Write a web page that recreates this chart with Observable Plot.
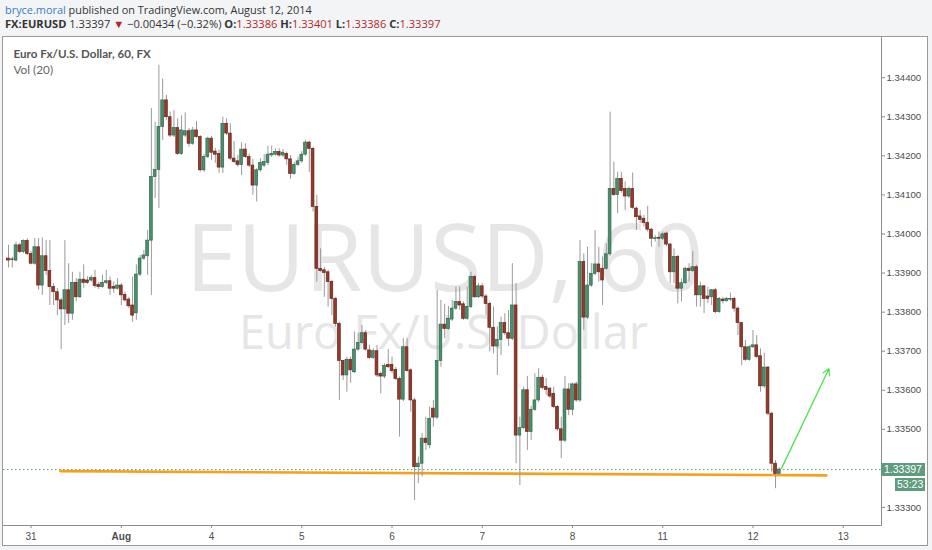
<!DOCTYPE html>
<html><head><meta charset="utf-8">
<script src="https://cdn.jsdelivr.net/npm/d3@7"></script>
<script src="https://cdn.jsdelivr.net/npm/@observablehq/plot@0.6"></script>
<style>
html,body{margin:0;padding:0;background:#f3f4f6;}
body{width:932px;height:550px;position:relative;overflow:hidden;font-family:Lato,"Open Sans",sans-serif;}
.hd{position:absolute;left:5px;color:#333;white-space:nowrap;font-family:"Open Sans",sans-serif;font-size:12px;}
#h1{top:2px;}
#h2{top:16px;}
.b{font-weight:bold;}
.r{color:#b3272b;}
#chart{position:absolute;left:2px;top:36px;width:924px;height:508px;border:1px solid #9a9a9a;background:#fff;}
.pbox{position:absolute;background:#5d9c7e;color:#fff;font:10.5px "Liberation Sans",Arial,sans-serif;line-height:13px;white-space:nowrap;}
</style></head>
<body>
<div class="hd" id="h1"><span style="color:#2f80c4">bryce.moral</span> published on TradingView.com, August 12, 2014</div>
<div class="hd" id="h2"><span class="b">FX:EURUSD</span> 1.33397 <span class="r">▼</span> −0.00434 (−0.32%) <span class="b">O:</span><span class="r">1.33386</span> <span class="b">H:</span><span class="r">1.33401</span> <span class="b">L:</span><span class="r">1.33386</span> <span class="b">C:</span><span class="r">1.33397</span></div>
<div id="chart"></div>
<script>
const open = [
1.33937,1.33935,1.33932,1.33971,1.33954,1.33982,1.33949,1.33924,1.33966,1.33868,1.33943,1.33905,
1.33864,1.33851,1.33830,1.33807,1.33856,1.33796,1.33875,1.33838,1.33883,1.33881,1.33881,1.33887,
1.33870,1.33864,1.33875,1.33879,1.33864,1.33860,1.33868,1.33844,1.33832,1.33817,1.33797,1.33896,
1.33937,1.33943,1.33983,1.34146,1.34164,1.34274,1.34342,1.34299,1.34252,1.34271,1.34205,1.34252,
1.34263,1.34231,1.34265,1.34248,1.34163,1.34197,1.34244,1.34211,1.34205,1.34170,1.34282,1.34257,
1.34193,1.34186,1.34177,1.34216,1.34197,1.34175,1.34124,1.34163,1.34175,1.34182,1.34201,1.34203,
1.34210,1.34201,1.34205,1.34191,1.34154,1.34177,1.34186,1.34203,1.34234,1.34218,1.34069,1.33911,
1.33907,1.33902,1.33877,1.33834,1.33770,1.33675,1.33638,1.33678,1.33646,1.33704,1.33721,1.33746,
1.33702,1.33683,1.33700,1.33642,1.33635,1.33665,1.33665,1.33652,1.33629,1.33576,1.33710,1.33651,
1.33574,1.33403,1.33412,1.33476,1.33459,1.33553,1.33530,1.33675,1.33768,1.33757,1.33781,1.33809,
1.33826,1.33820,1.33783,1.33813,1.33890,1.33838,1.33866,1.33840,1.33821,1.33760,1.33712,1.33729,
1.33772,1.33746,1.33732,1.33817,1.33484,1.33503,1.33600,1.33493,1.33550,1.33574,1.33632,1.33608,
1.33604,1.33591,1.33557,1.33500,1.33471,1.33602,1.33550,1.33615,1.33574,1.33928,1.33786,1.33868,
1.33898,1.33922,1.33911,1.33911,1.33948,1.34115,1.34100,1.34141,1.34115,1.34096,1.34115,1.34065,
1.34045,1.34039,1.34028,1.34011,1.33987,1.33990,1.33988,1.34001,1.33973,1.33902,1.33941,1.33860,
1.33874,1.33911,1.33905,1.33915,1.33843,1.33866,1.33840,1.33838,1.33856,1.33800,1.33832,1.33828,
1.33832,1.33834,1.33809,1.33772,1.33710,1.33678,1.33710,1.33715,1.33687,1.33610,1.33658,1.33540,
1.33412,1.33386];
const high = [
1.33971,1.33941,1.33979,1.33976,1.33985,1.33988,1.33955,1.33988,1.33988,1.33990,1.33983,1.33983,
1.33873,1.33861,1.33835,1.33983,1.33924,1.33902,1.33886,1.33902,1.33921,1.33890,1.33894,1.33907,
1.33876,1.33894,1.33907,1.33890,1.33877,1.33886,1.33873,1.33851,1.33838,1.33890,1.33921,1.33945,
1.33958,1.34009,1.34321,1.34286,1.34432,1.34397,1.34355,1.34312,1.34316,1.34295,1.34303,1.34310,
1.34270,1.34273,1.34288,1.34252,1.34204,1.34248,1.34250,1.34219,1.34214,1.34299,1.34295,1.34282,
1.34237,1.34201,1.34234,1.34231,1.34205,1.34191,1.34167,1.34193,1.34203,1.34225,1.34225,1.34218,
1.34218,1.34216,1.34210,1.34201,1.34183,1.34197,1.34211,1.34240,1.34237,1.34222,1.34099,1.33962,
1.33915,1.33907,1.33881,1.33838,1.33774,1.33676,1.33685,1.33685,1.33749,1.33746,1.33766,1.33753,
1.33715,1.33706,1.33715,1.33646,1.33668,1.33704,1.33685,1.33658,1.33634,1.33732,1.33732,1.33655,
1.33579,1.33429,1.33489,1.33531,1.33557,1.33574,1.33856,1.33830,1.33820,1.33815,1.33830,1.33864,
1.33864,1.33826,1.33864,1.33902,1.33894,1.33873,1.33873,1.33845,1.33826,1.33813,1.33762,1.33787,
1.33796,1.33804,1.33924,1.33873,1.33531,1.33608,1.33635,1.33559,1.33642,1.33655,1.33638,1.33630,
1.33608,1.33608,1.33561,1.33531,1.33635,1.33617,1.33618,1.33621,1.33983,1.33949,1.33966,1.33924,
1.34009,1.33966,1.33941,1.33975,1.34312,1.34184,1.34158,1.34158,1.34133,1.34120,1.34156,1.34069,
1.34060,1.34048,1.34071,1.34014,1.33996,1.34005,1.34005,1.34005,1.33976,1.33962,1.33945,1.33885,
1.33915,1.33924,1.33955,1.33920,1.33877,1.33868,1.33864,1.33858,1.33861,1.33838,1.33838,1.33838,
1.33849,1.33838,1.33813,1.33774,1.33727,1.33715,1.33753,1.33740,1.33706,1.33695,1.33661,1.33543,
1.33420,1.33401];
const low = [
1.33913,1.33913,1.33929,1.33950,1.33950,1.33945,1.33921,1.33920,1.33856,1.33843,1.33894,1.33817,
1.33817,1.33791,1.33704,1.33766,1.33771,1.33779,1.33827,1.33835,1.33861,1.33871,1.33876,1.33861,
1.33858,1.33861,1.33871,1.33843,1.33848,1.33856,1.33817,1.33826,1.33809,1.33774,1.33779,1.33891,
1.33932,1.33894,1.33843,1.34091,1.34065,1.34239,1.34291,1.34247,1.34247,1.34201,1.34201,1.34247,
1.34222,1.34227,1.34245,1.34158,1.34158,1.34193,1.34188,1.34181,1.34155,1.34155,1.34252,1.34188,
1.34181,1.34171,1.34150,1.34193,1.34170,1.34099,1.34082,1.34158,1.34170,1.34175,1.34196,1.34199,
1.34196,1.34196,1.34175,1.34140,1.34150,1.34173,1.34181,1.34199,1.34158,1.34056,1.33877,1.33902,
1.33838,1.33813,1.33791,1.33762,1.33574,1.33625,1.33595,1.33618,1.33643,1.33700,1.33718,1.33700,
1.33679,1.33679,1.33633,1.33591,1.33630,1.33656,1.33643,1.33625,1.33480,1.33571,1.33646,1.33544,
1.33318,1.33361,1.33378,1.33446,1.33450,1.33505,1.33525,1.33659,1.33732,1.33753,1.33776,1.33804,
1.33804,1.33779,1.33779,1.33809,1.33835,1.33835,1.33835,1.33791,1.33698,1.33693,1.33638,1.33689,
1.33740,1.33712,1.33727,1.33412,1.33356,1.33500,1.33446,1.33471,1.33546,1.33569,1.33602,1.33587,
1.33579,1.33553,1.33495,1.33425,1.33466,1.33535,1.33535,1.33569,1.33569,1.33753,1.33781,1.33863,
1.33894,1.33877,1.33817,1.33907,1.33943,1.34096,1.34052,1.34104,1.34060,1.34091,1.34063,1.34009,
1.34027,1.34018,1.34005,1.33966,1.33979,1.33966,1.33983,1.33968,1.33873,1.33873,1.33821,1.33826,
1.33871,1.33877,1.33902,1.33813,1.33813,1.33796,1.33822,1.33817,1.33796,1.33797,1.33821,1.33825,
1.33827,1.33800,1.33740,1.33663,1.33674,1.33674,1.33707,1.33681,1.33595,1.33605,1.33535,1.33390,
1.33348,1.33386];
const close = [
1.33932,1.33934,1.33971,1.33954,1.33982,1.33949,1.33924,1.33966,1.33868,1.33943,1.33905,1.33864,
1.33851,1.33830,1.33807,1.33856,1.33796,1.33875,1.33838,1.33883,1.33875,1.33875,1.33887,1.33867,
1.33864,1.33875,1.33879,1.33860,1.33860,1.33868,1.33843,1.33830,1.33815,1.33791,1.33896,1.33937,
1.33945,1.33983,1.34146,1.34164,1.34274,1.34342,1.34299,1.34252,1.34271,1.34205,1.34265,1.34263,
1.34231,1.34265,1.34248,1.34163,1.34197,1.34244,1.34208,1.34203,1.34170,1.34282,1.34257,1.34193,
1.34184,1.34177,1.34216,1.34197,1.34175,1.34124,1.34163,1.34182,1.34184,1.34203,1.34205,1.34210,
1.34201,1.34208,1.34191,1.34154,1.34177,1.34186,1.34203,1.34234,1.34218,1.34069,1.33911,1.33905,
1.33900,1.33877,1.33834,1.33770,1.33675,1.33638,1.33678,1.33651,1.33704,1.33721,1.33746,1.33704,
1.33683,1.33700,1.33638,1.33635,1.33662,1.33659,1.33649,1.33629,1.33576,1.33710,1.33649,1.33574,
1.33403,1.33412,1.33476,1.33465,1.33527,1.33530,1.33675,1.33768,1.33757,1.33783,1.33809,1.33826,
1.33817,1.33783,1.33813,1.33890,1.33838,1.33866,1.33840,1.33821,1.33760,1.33712,1.33729,1.33772,
1.33746,1.33732,1.33817,1.33484,1.33503,1.33600,1.33493,1.33550,1.33574,1.33632,1.33606,1.33601,
1.33584,1.33557,1.33500,1.33471,1.33602,1.33550,1.33615,1.33574,1.33928,1.33786,1.33868,1.33898,
1.33922,1.33902,1.33881,1.33948,1.34115,1.34100,1.34141,1.34110,1.34096,1.34115,1.34067,1.34043,
1.34036,1.34028,1.34011,1.33988,1.33989,1.33988,1.33999,1.33973,1.33902,1.33941,1.33860,1.33874,
1.33911,1.33905,1.33915,1.33843,1.33866,1.33834,1.33834,1.33856,1.33800,1.33834,1.33828,1.33834,
1.33834,1.33809,1.33772,1.33710,1.33678,1.33710,1.33715,1.33685,1.33610,1.33658,1.33540,1.33412,
1.33386,1.33397];

// x-axis: candle index of each day's first hourly bar, and its label
const dayTicks = [6, 30, 54, 78, 102, 126, 150, 174, 198, 222];
const dayLabels = ["31", "Aug", "4", "5", "6", "7", "8", "11", "12", "13"];
// 1.33400 sits under the current-price label, as in the original
const priceTicks = [1.333, 1.335, 1.336, 1.337, 1.338, 1.339, 1.340, 1.341, 1.342, 1.343, 1.344];

const lastClose = 1.33397;
const countdown = "53:23";
// drawn support line (orange) and projection arrow (green)
const trendIdx = [13.8, 217.5];
const trendPrice = [1.33393, 1.33382];
const arrowIdx = [205.6, 218.2];
const arrowPrice = [1.33400, 1.33655];
const watermark = ["EURUSD, 60", "Euro Fx/U.S. Dollar"];
const legendLines = ["Euro Fx/U.S. Dollar, 60, FX", "Vol (20)"];

const UP_FILL = "#4b8f6d", UP_STROKE = "#2f6a4d";
const DN_FILL = "#923a2c", DN_STROKE = "#6a2519";

const data = open.map((o, i) => ({i, o, h: high[i], l: low[i], c: close[i]}));
const trend = trendIdx.map((x, k) => ({x, y: trendPrice[k]}));
const labelMap = new Map(dayTicks.map((t, k) => [t, dayLabels[k]]));

const W = 924, H = 508, MR = 46, MB = 20;

// fit the two header lines to the widths seen in the original
function fitWidth(id, target) {
  const el = document.getElementById(id);
  const w = el.getBoundingClientRect().width;
  if (w > 0) el.style.fontSize = (12 * target / w).toFixed(2) + "px";
}
fitWidth("h1", 307);
fitWidth("h2", 436);

function frameLines(index, scales, values, dims) {
  const g = d3.create("svg:g");
  const xr = dims.width - dims.marginRight;
  const yb = dims.height - dims.marginBottom;
  g.append("line").attr("x1", xr + 0.5).attr("x2", xr + 0.5).attr("y1", 0).attr("y2", yb + 0.5).attr("stroke", "#8c8c8c");
  g.append("line").attr("x1", 0).attr("x2", xr + 0.5).attr("y1", yb + 0.5).attr("y2", yb + 0.5).attr("stroke", "#8c8c8c");
  return g.node();
}

const plot = Plot.plot({
  width: W, height: H,
  marginTop: 0, marginLeft: 0, marginRight: MR, marginBottom: MB,
  style: {background: "transparent", fontFamily: "Liberation Sans, Arial, sans-serif", fontSize: "10px", color: "#4d4d4d", overflow: "visible"},
  x: {type: "linear", domain: [-1.33, 232.18]},
  y: {domain: [1.332538, 1.34503]},
  marks: [
    Plot.text([watermark[0]], {text: d => d, frameAnchor: "middle", lineAnchor: "bottom", dx: 2, dy: 9, fontSize: 93, fill: "#e6e6e6", fontFamily: "Open Sans"}),
    Plot.text([watermark[1]], {text: d => d, frameAnchor: "middle", lineAnchor: "bottom", dx: 1, dy: 67, fontSize: 47, fill: "#e6e6e6", fontFamily: "Open Sans"}),
    Plot.text([legendLines[0]], {text: d => d, frameAnchor: "top-left", lineAnchor: "top", dx: 10, dy: 12, fontSize: 11.6, fontWeight: "bold", fill: "#555", fontFamily: "Lato"}),
    Plot.text([legendLines[1]], {text: d => d, frameAnchor: "top-left", lineAnchor: "top", dx: 10, dy: 28, fontSize: 11.8, fill: "#666", fontFamily: "Lato"}),
    Plot.ruleY([lastClose], {stroke: "#4e9a7c", strokeDasharray: "1.5,2.5"}),
    Plot.line(trend, {x: "x", y: "y", stroke: "#f7a11a", strokeWidth: 2.6}),
    Plot.ruleX(data, {x: "i", y1: "l", y2: "h", stroke: "#9a9a9a", strokeWidth: 1}),
    Plot.rect(data, {x1: d => d.i - 0.37, x2: d => d.i + 0.37, y1: "o", y2: "c",
      fill: d => d.c >= d.o ? UP_FILL : DN_FILL, stroke: d => d.c >= d.o ? UP_STROKE : DN_STROKE, strokeWidth: 0.7}),
    Plot.arrow([0], {x1: () => arrowIdx[0], y1: () => arrowPrice[0], x2: () => arrowIdx[1], y2: () => arrowPrice[1],
      stroke: "#4fe04f", strokeWidth: 1.3, headLength: 8}),
    Plot.axisY({anchor: "right", ticks: priceTicks, tickFormat: d3.format(".5f"), tickSize: 3, tickPadding: 2, stroke: "#8c8c8c", fill: "#4d4d4d", fontSize: 9.6}),
    Plot.axisX({anchor: "bottom", ticks: dayTicks, tickFormat: d => labelMap.get(d), tickSize: 3, tickPadding: 4, stroke: "#8c8c8c", fill: "#4d4d4d", fontSize: 10}),
    frameLines
  ]
});
d3.select(plot).selectAll("text").filter(function () { return this.textContent === "Aug"; }).attr("font-weight", "bold");
const chart = document.getElementById("chart");
chart.appendChild(plot);

// current-price label and bar countdown, placed on the price scale
const py = plot.scale("y").apply(lastClose);
const xr = W - MR;
const b1 = document.createElement("div");
b1.className = "pbox";
b1.style.cssText = `left:${xr}px;top:${py - 6.5}px;width:41px;height:13.5px;padding-left:3px;`;
b1.textContent = d3.format(".5f")(lastClose);
chart.appendChild(b1);
const b2 = document.createElement("div");
b2.className = "pbox";
b2.style.cssText = `left:${xr + 14}px;top:${py + 9}px;width:28px;height:12.5px;padding-left:2px;line-height:12.5px;`;
b2.textContent = countdown;
chart.appendChild(b2);
</script>
</body></html>
